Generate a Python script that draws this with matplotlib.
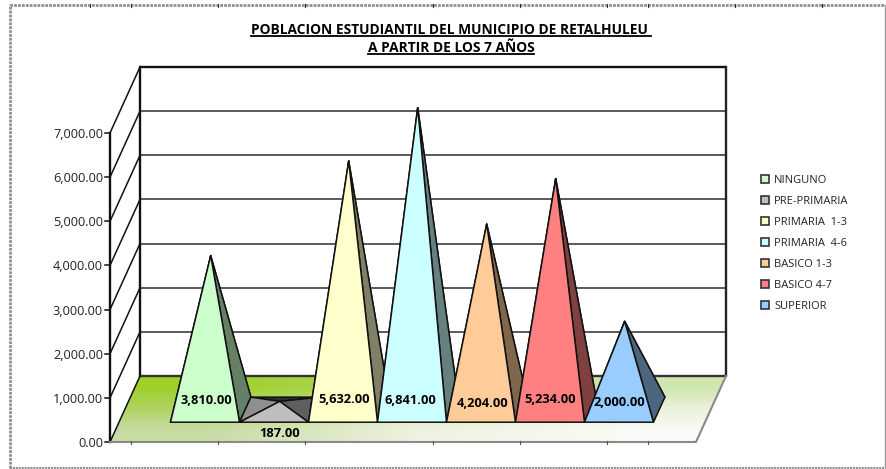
from matplotlib import pyplot as plt
from matplotlib.patches import Patch, Polygon
import numpy as np

plt.rcParams['font.family'] = ['Open Sans', 'DejaVu Sans']

categories = ['NINGUNO', 'PRE-PRIMARIA', 'PRIMARIA  1-3', 'PRIMARIA  4-6', 'BASICO 1-3', 'BASICO 4-7', 'SUPERIOR']
# printed labels
values = [3810, 187, 5632, 6841, 4204, 5234, 2000]
# height of the drawn peaks, the first one is lower in the picture than its label says
heights = [3490, 187, 5632, 6841, 4204, 5234, 2000]
colors = ['#CCFFCC', '#BEBEBE', '#FFFFCC', '#CCFFFF', '#FFCC99', '#FF8080', '#99CCFF']
yticks = [0, 1000, 2000, 3000, 4000, 5000, 6000, 7000]
title_lines = ['POBLACION ESTUDIANTIL DEL MUNICIPIO DE RETALHULEU ', 'A PARTIR DE LOS 7 AÑOS']

# layout of the fake 3d box, in pixels
x0, y0 = 110, 442
px_per_unit = 309 / 7000
depth_x, depth_y = 30, -66
floor_w = 586
bar_w = 69
gap = (floor_w - bar_w * len(categories)) / 2
d_front, d_back = 0.30, 0.68
label_dx = [1.5, 5.5, 1, -2, 1.5, 0, 0.5]
label_dy = [22, -11, 23, 22, 19, 23, 20]
# sheet cell lines showing through at the frame
cell_x = [90, 131, 218, 305, 433, 520, 607, 648, 735, 822]


def project(x, value, depth):
    return x0 + x + depth_x * depth, y0 - value * px_per_unit + depth_y * depth


fig = plt.figure(figsize=(8.86, 4.69), dpi=100)
ax = fig.add_axes([0, 0, 1, 1])

# floor with gradient
corners = [project(0, 0, 0), project(floor_w, 0, 0), project(floor_w, 0, 1), project(0, 0, 1)]
floor = Polygon(corners, closed=True, facecolor='none', edgecolor='none')
ax.add_patch(floor)
grad = np.array([[[158, 208, 40], [178, 214, 100], [208, 230, 175]],
                 [[175, 212, 100], [218, 232, 180], [235, 242, 220]],
                 [[200, 220, 165], [238, 242, 225], [250, 250, 246]]], dtype=np.uint8)
im = ax.imshow(grad, extent=(110, 726, 442, 376), aspect='auto', interpolation='bilinear', zorder=1)
im.set_clip_path(floor)
ax.set_xlim(0, 886)
ax.set_ylim(469, 0)
ax.axis('off')

# walls and grid
for v in yticks:
    xa, ya = project(0, v, 0)
    xb, yb = project(0, v, 1)
    xc, yc = project(floor_w, v, 1)
    lw = 1.7 if v in (0, 7000) else 1.3
    col = '#111111' if v == 7000 else '#4d4d4d'
    if v == 0:
        col = '#333333'
    ax.plot([xb, xc], [yb, yc], color=col, lw=lw, zorder=2, solid_capstyle='butt')
    ax.plot([xa, xb], [ya, yb], color='#111111', lw=1.1, zorder=2)
    ax.plot([xa - 5, xa], [ya, ya], color='#111111', lw=1.1, zorder=2)
    ax.text(xa - 7, ya + 1.5, format(v, ',.2f'), ha='right', va='center', fontsize=9.2, color='#222222', zorder=6)

xa, ya = project(0, 0, 0)
xb, yb = project(0, 7000, 0)
ax.plot([xa, xb], [ya, yb], color='#111111', lw=1.7, zorder=2)
xa, ya = project(0, 0, 1)
xb, yb = project(0, 7000, 1)
ax.plot([xa, xb], [ya, yb], color='#111111', lw=1.7, zorder=2)
xa, ya = project(floor_w, 0, 1)
xb, yb = project(floor_w, 7000, 1)
ax.plot([xa, xb], [ya, yb], color='#222222', lw=1.7, zorder=2)

# floor edges, grey
edge = [project(0, 0, 0), project(floor_w, 0, 0), project(floor_w, 0, 1)]
ax.plot([p[0] for p in edge], [p[1] for p in edge], color='#8a8a8a', lw=1.5, zorder=2)

# pyramids, left to right so each one covers the back of the previous
for i, h in enumerate(heights):
    left = gap + i * bar_w
    right = left + bar_w
    fl = project(left, 0, d_front)
    fr = project(right, 0, d_front)
    bl = project(left, 0, d_back)
    br = project(right, 0, d_back)
    apex = project(left + bar_w / 2, h, (d_front + d_back) / 2)
    base = np.array(plt.matplotlib.colors.to_rgb(colors[i]))
    z = 3 + i * 0.1
    faces = [([bl, br, apex], 0.25), ([fl, bl, apex], 0.75), ([fr, br, apex], 0.5), ([fl, fr, apex], 1.0)]
    for pts, shade in faces:
        ax.add_patch(Polygon(pts, closed=True, facecolor=base * shade, edgecolor='#111111',
                             lw=1.1, joinstyle='round', zorder=z))
    cx, cy = project(left + bar_w / 2, 0, d_front)
    ax.text(cx + label_dx[i], cy - label_dy[i], format(values[i], ',.2f'), ha='center', va='center',
            fontsize=9.3, fontweight='bold', color='black', zorder=6)

# title, underlined by hand
fig.canvas.draw()
rend = fig.canvas.get_renderer()
for line, yy in zip(title_lines, [30, 48]):
    t = ax.text(451, yy, line, ha='center', va='center', fontsize=9.9, fontweight='bold', color='black')
    bb = t.get_window_extent(rend)
    ax.plot([bb.x0, bb.x1], [yy + 6.5, yy + 6.5], color='black', lw=1.3)

# legend
handles = [Patch(facecolor=c, edgecolor='#333333', lw=1.2) for c in colors]
ax.legend(handles, categories, loc='upper left', bbox_to_anchor=(761 / 886, 1 - 175 / 469), frameon=False,
          fontsize=8, handlelength=0.75, handleheight=0.75, handletextpad=0.45, labelspacing=0.9,
          borderpad=0, borderaxespad=0, labelcolor='#222222')

# outer frame of the sheet
ax.plot([10, 10, 885], [468, 5, 5], color='#8f8f8f', lw=2, ls=(0, (1, 0.4)), zorder=1)
ax.plot([10, 885], [468, 468], color='#8f8f8f', lw=1.5, ls=(0, (1, 0.4)), zorder=1)
ax.plot([885, 885], [5, 468], color='#9a9a9a', lw=1, zorder=1)
for cx in cell_x:
    ax.plot([cx, cx], [4, 7], color='#333333', lw=0.8, zorder=2)
    if 110 < cx < 696:
        ax.plot([cx, cx], [441, 444], color='#555555', lw=0.8, zorder=2)

fig.savefig('out.png', dpi=100)
